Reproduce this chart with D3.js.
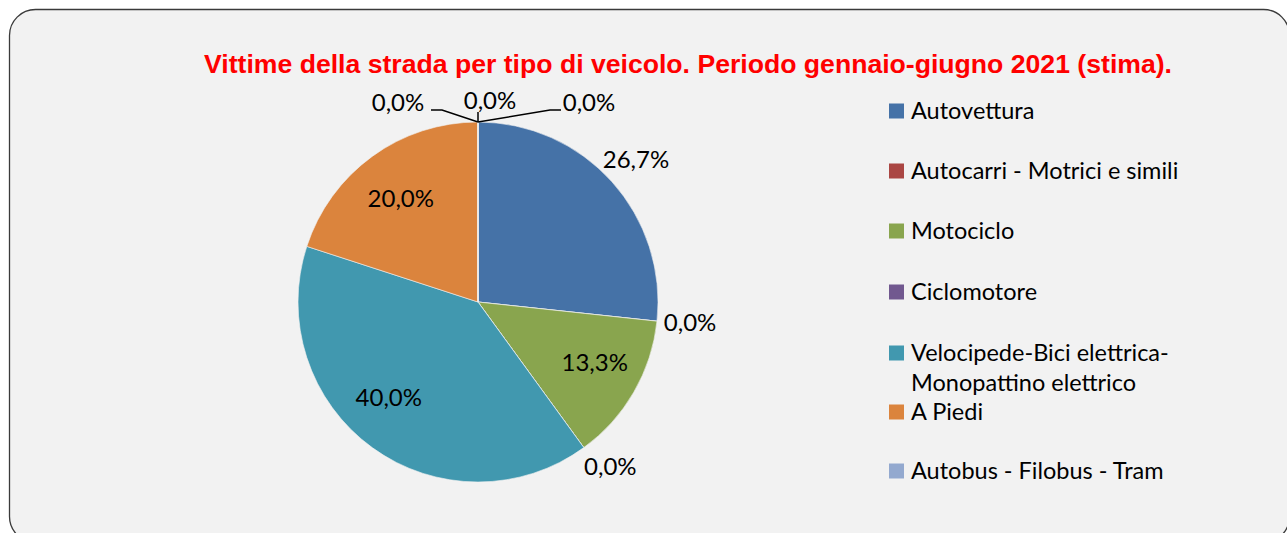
<!DOCTYPE html>
<html>
<head>
<meta charset="utf-8">
<script src="https://cdn.jsdelivr.net/npm/d3@7"></script>
<style>
  body { margin: 0; background: #fff; }
  svg { display: block; }
</style>
</head>
<body>
<div id="chart"></div>
<script>
const categories = [
  'Autovettura',
  'Autocarri - Motrici e simili',
  'Motociclo',
  'Ciclomotore',
  'Velocipede-Bici elettrica-Monopattino elettrico',
  'A Piedi',
  'Autobus - Filobus - Tram',
  'Altro veicolo',
  'Non indicato'
];
const shares = [26.7, 0, 13.3, 0, 40.0, 20.0, 0, 0, 0];
const colors = ['#4572a7', '#aa4643', '#89a54e', '#71588f', '#4198af', '#db843d', '#93a9cf', '#b9cd96', '#a99bbd'];
const legendLines = [
  ['Autovettura'],
  ['Autocarri - Motrici e simili'],
  ['Motociclo'],
  ['Ciclomotore'],
  ['Velocipede-Bici elettrica-', 'Monopattino elettrico'],
  ['A Piedi'],
  ['Autobus - Filobus - Tram']
];
const title = 'Vittime della strada per tipo di veicolo. Periodo gennaio-giugno 2021 (stima).';

const width = 1287, height = 533;
const cx = 478, cy = 302, radius = 180;
const fmt = v => d3.format('.1f')(v).replace('.', ',') + '%';
const labelFont = 'Lato, Open Sans, sans-serif';

const svg = d3.select('#chart').append('svg')
    .attr('width', width)
    .attr('height', height);

svg.append('rect')
    .attr('x', 9.5).attr('y', 9.5)
    .attr('width', 1280).attr('height', 533)
    .attr('rx', 26).attr('ry', 26)
    .attr('fill', '#f2f2f2')
    .attr('stroke', '#3a3a3a')
    .attr('stroke-width', 1.3);

svg.append('text')
    .attr('x', 688).attr('y', 73)
    .attr('text-anchor', 'middle')
    .attr('textLength', 968)
    .attr('lengthAdjust', 'spacingAndGlyphs')
    .style('font-family', 'Liberation Sans, Arial, sans-serif')
    .style('font-weight', 'bold')
    .style('font-size', '26px')
    .attr('fill', '#ff0000')
    .text(title);

const data = categories.map((c, i) => ({ name: c, value: shares[i], color: colors[i] }));

const pie = d3.pie().sort(null).value(d => d.value);
const arcs = pie(data);
const arc = d3.arc().innerRadius(0).outerRadius(radius);

const g = svg.append('g').attr('transform', `translate(${cx},${cy})`);

g.selectAll('path.slice')
    .data(arcs)
  .enter().append('path')
    .attr('class', 'slice')
    .attr('d', arc)
    .attr('fill', d => d.data.color)
    .attr('stroke', '#f2f2f2')
    .attr('stroke-width', 0.6);

// label placement ("best fit"): inside for big slices, outside for the first and for empty ones
const inner = d3.arc().innerRadius(radius * 0.73).outerRadius(radius * 0.73);
const outer = d3.arc().innerRadius(radius * 1.18).outerRadius(radius * 1.18);
const edge = d3.arc().innerRadius(radius * 1.09).outerRadius(radius * 1.09);
const nudge = { 2: [3, -5], 4: [-12, -11], 5: [0, 3] };

const labelStyle = sel => sel
    .attr('text-anchor', 'middle')
    .attr('dy', '0.35em')
    .style('font-family', labelFont)
    .style('font-size', '24px')
    .attr('fill', '#000');

// stacked zero labels at the top of the pie
const topZeros = arcs.filter(d => d.data.value === 0 && d.startAngle >= 2 * Math.PI - 1e-6);

arcs.forEach((d, i) => {
  let pos;
  if (topZeros.includes(d)) {
    const k = topZeros.indexOf(d);
    if (k === 1) {
      g.append('line').attr('x1', 0).attr('y1', -radius - 10).attr('x2', 0).attr('y2', -radius)
          .attr('stroke', '#000').attr('stroke-width', 1.5);
    } else {
      const ly = -192;
      const lx = k === 0 ? 72 : -36;
      const ex = k === 0 ? 83 : -47;
      g.append('polyline')
          .attr('points', [[ex, ly], [lx, ly], [0, -radius]].map(p => p.join(',')).join(' '))
          .attr('fill', 'none').attr('stroke', '#000').attr('stroke-width', 1.5);
    }
    pos = k === 0 ? [111, -199] : k === 1 ? [12, -201] : [-80, -199];
  } else if (d.data.value === 0) {
    pos = edge.centroid(d);
    pos[0] += 17 * Math.sign(pos[0]);
    if (pos[1] > 100) pos[1] += 6;
  } else if (i === 0) {
    pos = outer.centroid(d);
  } else {
    pos = inner.centroid(d);
    const n = nudge[i] || [0, 0];
    pos = [pos[0] + n[0], pos[1] + n[1]];
  }
  g.append('text').attr('x', pos[0]).attr('y', pos[1]).call(labelStyle).text(fmt(d.data.value));
});

// legend
const legendY = [111, 171, 231, 292, 353, 412, 471];
const legend = svg.append('g').attr('transform', 'translate(889,0)');
legendLines.forEach((lines, i) => {
  const row = legend.append('g').attr('transform', `translate(0,${legendY[i]})`);
  row.append('rect')
      .attr('x', 0).attr('y', -7.5)
      .attr('width', 15).attr('height', 15)
      .attr('fill', colors[i]);
  lines.forEach((t, j) => {
    row.append('text')
        .attr('x', 22).attr('y', j * 29.5)
        .attr('dy', '0.35em')
        .style('font-family', labelFont)
        .style('font-size', '23.5px')
        .attr('fill', '#000')
        .text(t);
  });
});
</script>
</body>
</html>
